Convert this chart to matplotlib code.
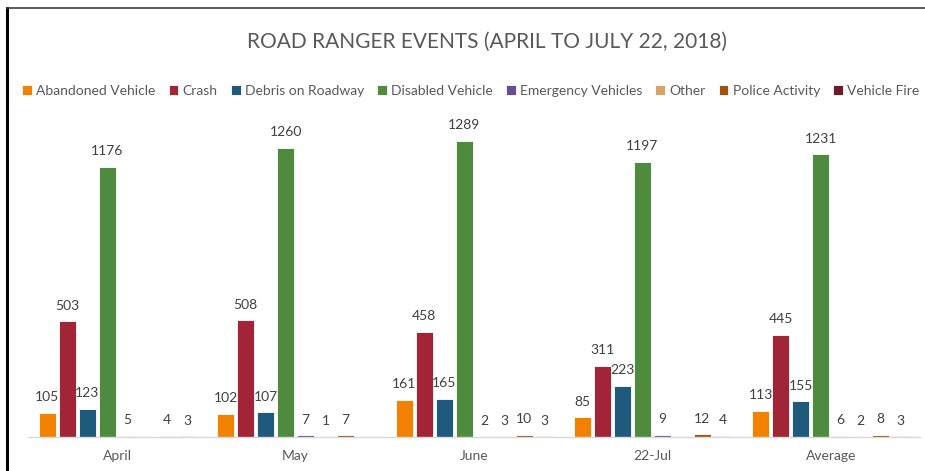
import numpy as np
import matplotlib.pyplot as plt
from matplotlib.lines import Line2D

plt.rcParams['font.family'] = ['Lato', 'DejaVu Sans']

categories = ['April', 'May', 'June', '22-Jul', 'Average']
series = ['Abandoned Vehicle', 'Crash', 'Debris on Roadway', 'Disabled Vehicle',
          'Emergency Vehicles', 'Other', 'Police Activity', 'Vehicle Fire']

# None = no value shown in the source chart
abandoned = [105, 102, 161, 85, 113]
crash = [503, 508, 458, 311, 445]
debris = [123, 107, 165, 223, 155]
disabled = [1176, 1260, 1289, 1197, 1231]
emergency = [5, 7, 2, 9, 6]
other = [None, 1, 3, None, 2]
police = [4, 7, 10, 12, 8]
fire = [3, None, 3, 4, 3]

values = [abandoned, crash, debris, disabled, emergency, other, police, fire]
colors = ['#F28100', '#A22537', '#1F5A7D', '#4E8B3F',
          '#6A4C93', '#D4A368', '#A0520F', '#6D1B28']

fig = plt.figure(figsize=(9.25, 4.71), dpi=100)
ax = fig.add_axes([28 / 925, 34 / 471, 892 / 925, (437 - 115.5) / 471])

x = np.arange(len(categories))
step = 20 / 178.4
width = 17 / 178.4
handles = []
for j, (name, vals, col) in enumerate(zip(series, values, colors)):
    pos = x + (j - 3.5) * step
    h = [v if v is not None else 0 for v in vals]
    bars = ax.bar(pos, h, width=width, color=col, label=name,
                  edgecolor='white', linewidth=0.6)
    handles.append(bars)
    for p, v in zip(pos, vals):
        if v is None:
            continue
        ax.annotate(str(v), (p, v), xytext=(0, 7), textcoords='offset points',
                    ha='center', va='bottom', fontsize=10, color='#404040')

ax.set_xlim(-0.5, 4.5)
ax.set_ylim(0, 1400)
ax.set_yticks([])
ax.set_xticks(x)
ax.set_xticklabels(categories, fontsize=10, color='#595959')
ax.tick_params(axis='x', length=0, pad=9)
for s in ['top', 'right', 'left']:
    ax.spines[s].set_visible(False)
ax.spines['bottom'].set_color('#D9D9D9')
ax.spines['bottom'].set_linewidth(1)

fig.text(0.527, 1 - 42 / 471, 'ROAD RANGER EVENTS (APRIL TO JULY 22, 2018)',
         ha='center', va='center', fontsize=15, color='#595959')

fig.legend(handles=handles, labels=series, loc='center', ncol=8,
           bbox_to_anchor=(0.509, 1 - 91 / 471), frameon=False,
           handlelength=0.7, handleheight=0.7, handletextpad=0.3,
           columnspacing=0.95, fontsize=10, labelcolor='#595959')

# frame of the screenshot
fig.add_artist(Line2D([7 / 925, 7 / 925], [0, 1 - 8 / 471], color='black',
                      linewidth=2.2, transform=fig.transFigure))
fig.add_artist(Line2D([7 / 925, 1], [1 - 8 / 471, 1 - 8 / 471], color='#404040',
                      linewidth=1.2, transform=fig.transFigure))

fig.savefig('out.png', dpi=100)
